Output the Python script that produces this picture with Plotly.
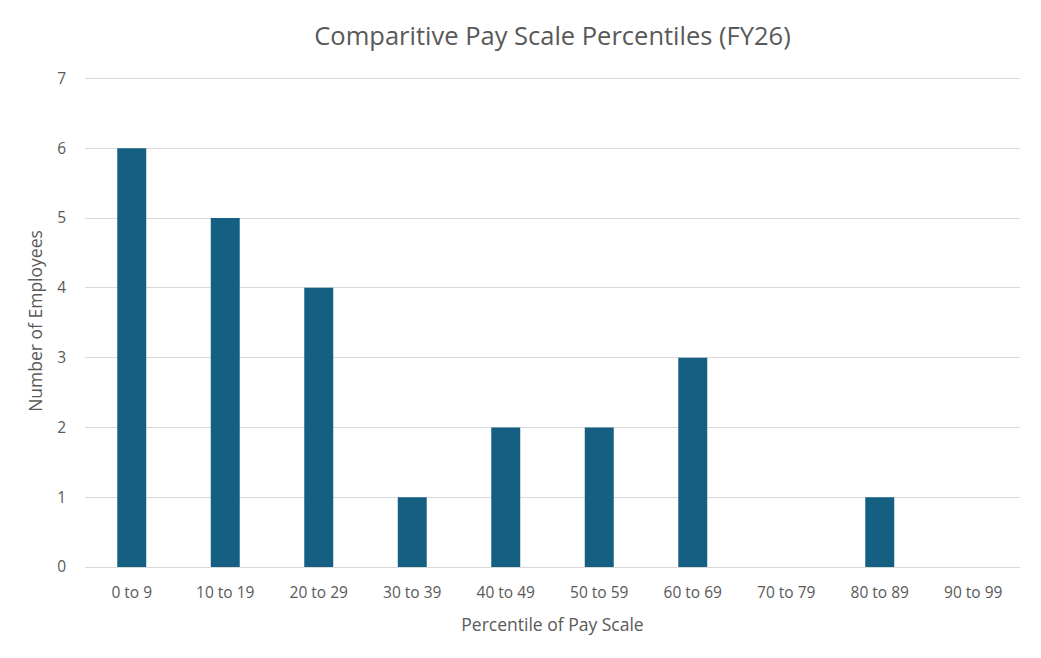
import plotly.graph_objects as go

categories = ["0 to 9", "10 to 19", "20 to 29", "30 to 39", "40 to 49",
              "50 to 59", "60 to 69", "70 to 79", "80 to 89", "90 to 99"]
employees = [6, 5, 4, 1, 2, 2, 3, 0, 1, 0]
y_ticks = [0, 1, 2, 3, 4, 5, 6, 7]

gray = "#595959"
fig = go.Figure(go.Bar(x=categories, y=employees, marker_color="#156082",
                       marker_line_width=0))
fig.update_layout(
    width=1041, height=658,
    margin=dict(l=77, r=29, t=66.5, b=99),
    paper_bgcolor="white", plot_bgcolor="white",
    bargap=0.69,
    showlegend=False,
    title=dict(text="Comparitive Pay Scale Percentiles (FY26)",
               x=0.5, xref="paper", xanchor="center",
               y=1 - 28 / 658, yref="container", yanchor="middle",
               font=dict(family="Open Sans, sans-serif", size=25.5, color=gray)),
    font=dict(family="Open Sans, sans-serif", size=14, color=gray),
)
fig.update_xaxes(title=dict(text="Percentile of Pay Scale", font=dict(size=17.5, color=gray), standoff=17),
                 showgrid=False, showline=False, ticks="", ticklabelstandoff=14,
                 tickfont=dict(size=15.5, color=gray))
fig.update_yaxes(title=dict(text="Number of Employees", font=dict(size=17.5, color=gray), standoff=10),
                 range=[0, 7.05], tickvals=y_ticks, showgrid=True, gridcolor="#d9d9d9",
                 gridwidth=1.3, zeroline=True, zerolinecolor="#d9d9d9", zerolinewidth=1.3,
                 ticks="", ticklabelstandoff=18, tickfont=dict(size=15.5, color=gray))
fig.write_html("out.html")
